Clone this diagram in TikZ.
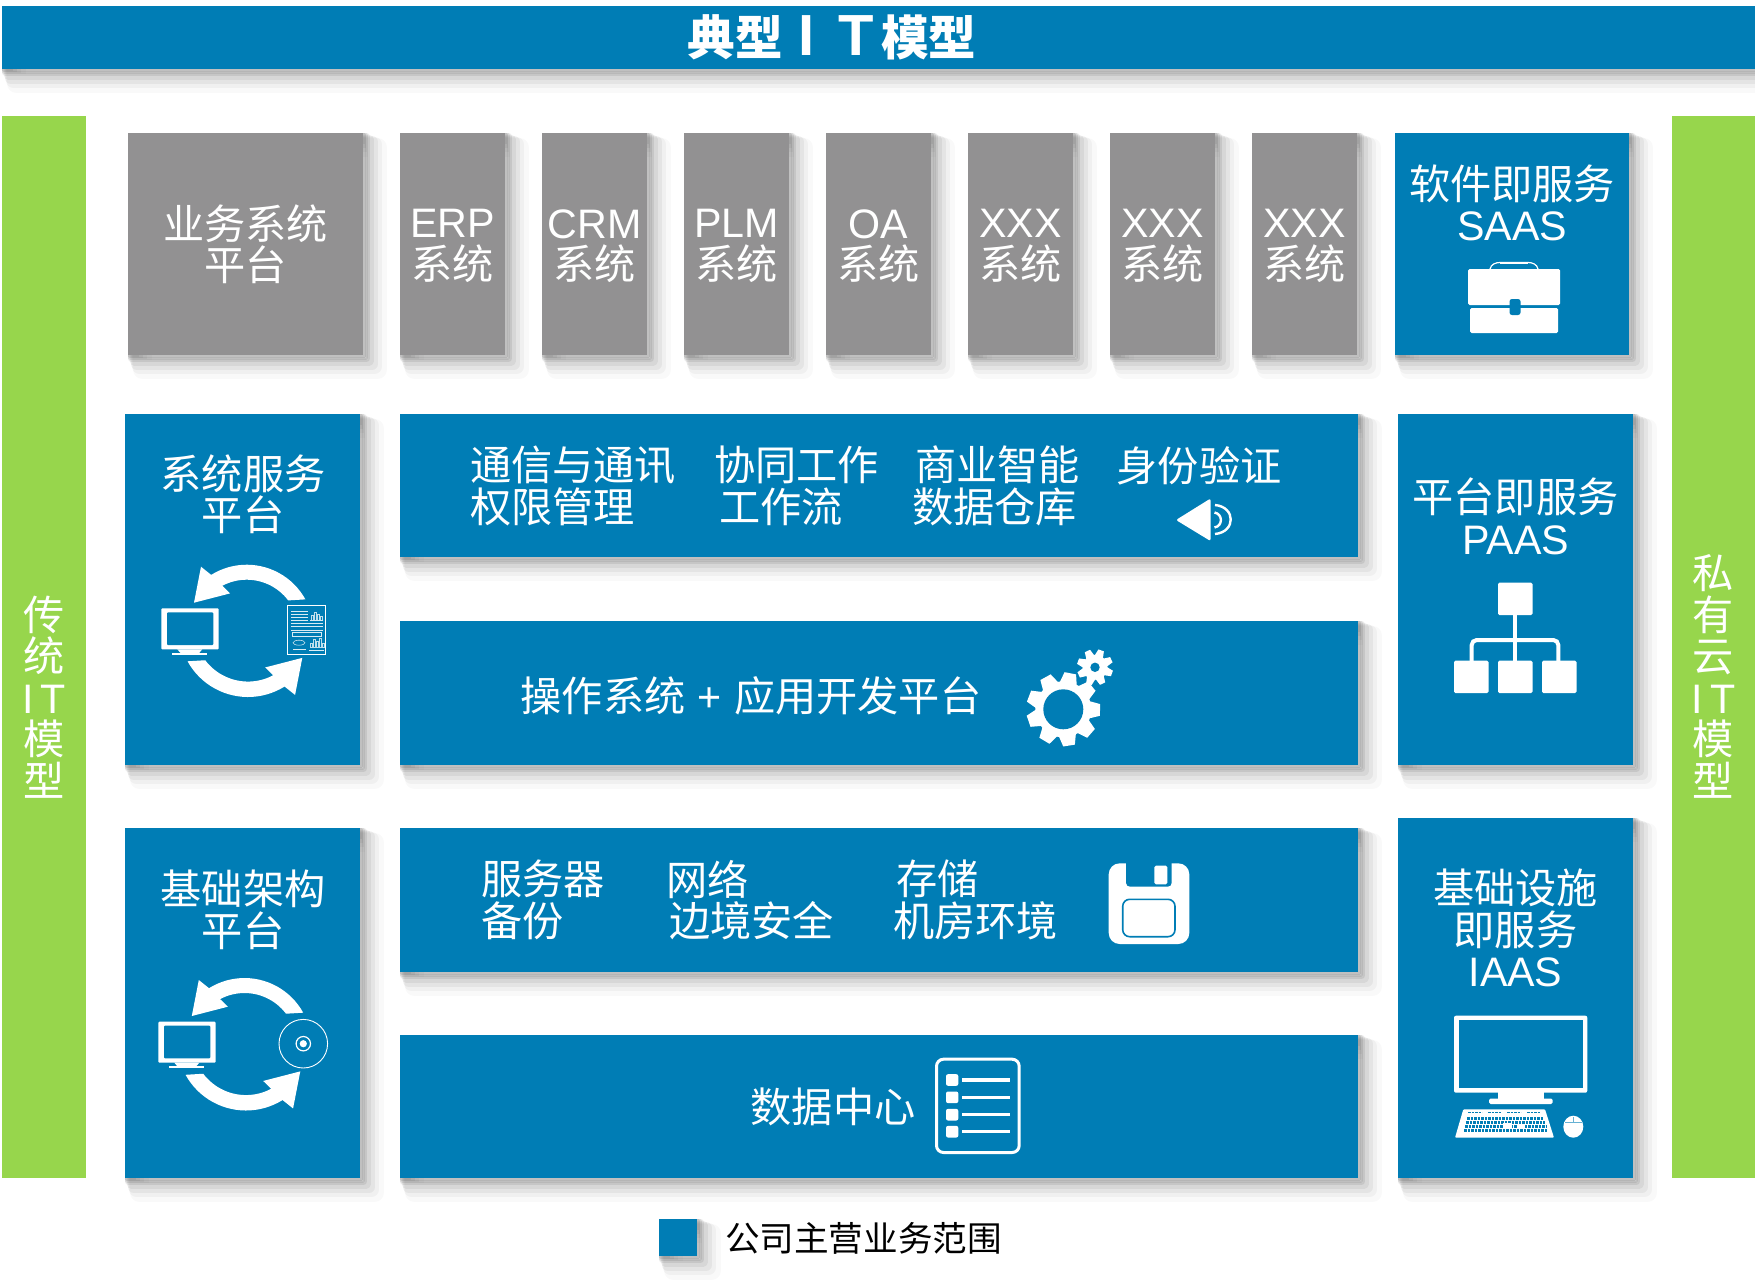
\documentclass[tikz,border=0pt]{standalone}
\usepackage{fontspec}
\setmainfont{Noto Sans CJK SC}
\newfontfamily\latfont{Liberation Sans}
\usetikzlibrary{shadows}
\definecolor{boxblue}{RGB}{0,125,181}
\definecolor{boxgray}{RGB}{146,145,146}
\definecolor{boxgreen}{RGB}{151,214,76}
\newcommand{\lat}[1]{{\latfont #1}}
% soft shadow, stacked strokes
\tikzset{
	softlayer/.style n args={3}{general shadow={shadow xshift=#2pt,shadow yshift=-#2pt,draw=black,draw opacity=#3,line width=#1pt,line join=round}},
	softshadow/.style={softlayer={19}{14.5}{.025},softlayer={15}{11.5}{.035},softlayer={12}{9}{.05},softlayer={9}{6}{.06},softlayer={7}{3.5}{.08},softlayer={5}{2.5}{.09},softlayer={3}{1.5}{.1}},
	plainbox/.style={inner sep=0pt,outer sep=0pt,text=white,align=center,font=\fontsize{41.2}{41.5}\selectfont},
	bluebox/.style={plainbox,fill=boxblue,softshadow},
	graybox/.style={plainbox,fill=boxgray,softshadow},
	greenbox/.style={plainbox,fill=boxgreen},
	label/.style={plainbox},
	leftlabel/.style={plainbox,align=left,anchor=west},
	halfloop/.pic={
		\fill[white] (58.3,-32.3) -- plot[domain=-29:-122,samples=24] ({67*cos(\x)},{67*sin(\x)}) -- (-45.7,-65) -- (-52.7,-29) -- (-16.7,-38.3) -- plot[domain=-118:-37,samples=24] ({52*cos(\x)},{52*sin(\x)}) -- cycle;
	},
	smallscreen/.pic={
		\fill[white,rounded corners=1pt] (0,0) rectangle (57.4,41);
		\fill[boxblue,rounded corners=1pt] (5.7,4) rectangle (52,36.7);
		\fill[white] (16,41) -- (41,41) -- (38,44.5) -- (19,44.5) -- cycle;
		\fill[white] (11,44.5) rectangle (45.7,46.2);
	},
}
\newcommand{\gearicon}[7]{% x, y, teeth, hole, body, tip, first angle
	\fill[white] (#1,#2) circle (#5);
	\pgfmathsetmacro{\gearstep}{360/#3}
	\foreach \k in {1,...,#3}{
		\pgfmathsetmacro{\geara}{#7+\k*\gearstep}
		\fill[white,shift={(#1,#2)},rotate=\geara] (#5*.9,-#6*.24) -- (#6,-#6*.16) -- (#6,#6*.16) -- (#5*.9,#6*.24) -- cycle;
	}
	\fill[boxblue] (#1,#2) circle (#4);
}

\begin{document}
\begin{tikzpicture}[x=1pt,y=-1pt]
	\useasboundingbox (0,0) rectangle (1755,1282);

	\node[bluebox,minimum width=1753pt,minimum height=63pt] (topbar) at (878.5,37.5) {};
	\node[label,font=\fontsize{47.6}{50}\selectfont\bfseries] (title) at (832,37) {典型\hspace{16pt}{\fontsize{58}{50}\selectfont\lat{I}}\hspace{24pt}{\fontsize{58}{50}\selectfont\lat{T}}\hspace{7pt}模型};

	\node[greenbox,minimum width=84pt,minimum height=1062pt] (leftbar) at (44,647) {};
	\node[greenbox,minimum width=83pt,minimum height=1062pt] (rightbar) at (1713.5,647) {};
	\node[label] (leftname) at (44,697) {传\\统\\\lat{I\hspace{7pt}T}\\模\\型};
	\node[label] (rightname) at (1713.5,676.5) {私\\有\\云\\\lat{I\hspace{7pt}T}\\模\\型};

	% top row
	\node[graybox,minimum width=235pt,minimum height=222pt] (bizbox) at (245.5,244) {业务系统\\平台};
	\foreach \nm/\lbl/\xc in {erp/ERP/452.5,crm/CRM/594.5,plm/PLM/736.5,oa/OA/878.5,xxxa/XXX/1020.5,xxxb/XXX/1162.5,xxxc/XXX/1304.5}{
		\node[graybox,minimum width=105pt,minimum height=222pt] (\nm) at (\xc,244) {};
		\node[label] (\nm text) at (\xc,246) {\lat{\lbl}\\系统};
	}
	\node[bluebox,minimum width=234pt,minimum height=222pt] (saasbox) at (1512,244) {};
	\node[label] (saas) at (1512,203) {软件即服务\\\lat{SAAS}};

	% middle
	\node[bluebox,minimum width=235pt,minimum height=351pt] (sysbox) at (242.5,589.5) {};
	\node[label] (sys) at (243,494) {系统服务\\平台};
	\node[bluebox,minimum width=958pt,minimum height=143pt] (rowa) at (879,485.5) {};
	\node[bluebox,minimum width=958pt,minimum height=144pt] (rowb) at (879,693) {};
	\node[bluebox,minimum width=235pt,minimum height=351pt] (paasbox) at (1515.5,589.5) {};
	\node[label] (paas) at (1515.5,516.5) {平台即服务\\\lat{PAAS}};

	\node[leftlabel] (msg) at (470,486) {通信与通讯\\权限管理};
	\node[leftlabel] (work) at (714,486) {协同工作\\\hspace{5pt}工作流};
	\node[leftlabel] (bi) at (912,486) {\hspace{3pt}商业智能\\数据仓库};
	\node[label] (auth) at (1199,466) {身份验证};
	\node[label] (os) at (751,696) {操作系统\hspace{3pt} \lat{+} \hspace{3pt}应用开发平台};

	% bottom
	\node[bluebox,minimum width=235pt,minimum height=350pt] (infrabox) at (242.5,1003) {};
	\node[label] (infra) at (243,910) {基础架构\\平台};
	\node[bluebox,minimum width=958pt,minimum height=144pt] (rowc) at (879,900) {};
	\node[bluebox,minimum width=958pt,minimum height=143pt] (rowd) at (879,1106.5) {};
	\node[bluebox,minimum width=235pt,minimum height=360pt] (iaasbox) at (1515.5,998) {};
	\node[label] (iaas) at (1515.5,928) {基础设施\\即服务\\\lat{IAAS}};

	\node[leftlabel] (server) at (481,900) {服务器\\备份};
	\node[leftlabel] (net) at (666,900) {网络\\\hspace{3pt}边境安全};
	\node[leftlabel] (store) at (893,900) {\hspace{3pt}存储\\机房环境};
	\node[label] (dc) at (833,1107) {数据中心};

	% legend
	\node[plainbox,fill=boxblue,softshadow,minimum width=38pt,minimum height=37pt] (legendbox) at (678,1237.5) {};
	\node[leftlabel,text=black,font=\fontsize{34.6}{36}\selectfont] (legend) at (725,1238) {公司主营业务范围};

	% briefcase
	\draw[white,line width=1.2pt] (1490,269) .. controls (1491,264) and (1496,262.5) .. (1500,262.5) -- (1528,262.5) .. controls (1532,262.5) and (1537,264) .. (1538,269);
	\fill[white,line width=3pt] (1500,261.5) rectangle (1528,264);
	\fill[white,rounded corners=1.5pt] (1468,269) rectangle (1560,305);
	\fill[white,rounded corners=1.5pt] (1470,308) rectangle (1558,333);
	\fill[boxblue,rounded corners=2.5pt] (1509.5,299) rectangle (1520.5,315);

	% loops
	\pic at (246.7,631.7) {halfloop};
	\pic[rotate=180,scale=1.03] at (248,628) {halfloop};
	\pic at (161.3,608.3) {smallscreen};
	\pic at (244.5,1045) {halfloop};
	\pic[rotate=180,scale=1.03] at (246,1041.5) {halfloop};
	\pic at (158.3,1021.7) {smallscreen};

	% report sheet
	\draw[white,line width=.8pt] (287.5,605) rectangle (325,654.3);
	\foreach \yy in {611,614.3,617.5,620.2}
		\draw[white!85!boxblue,line width=.8pt] (291,\yy) -- (308,\yy);
	\foreach \xx/\hh in {311/5,314/8,317/6,320/4}
		\draw[white!75!boxblue,line width=.6pt] (\xx,620) rectangle (\xx+2,620-\hh);
	\draw[white!85!boxblue,line width=.7pt] (310,620.5) -- (323,620.5);
	\foreach \yy in {623.5,626.8,630}
		\draw[white!85!boxblue,line width=.7pt] (291,\yy) -- (323,\yy);
	\draw[white!85!boxblue,line width=.7pt] (292.3,632.7) rectangle (321.7,636);
	\draw[white!80!boxblue,line width=.6pt] (299,642.7) ellipse (6 and 2.5);
	\draw[white!85!boxblue,line width=.7pt] (293,649.5) -- (306,649.5);
	\foreach \xx/\hh in {310/4,313/8,316/6,319/9,322/4}
		\draw[white!75!boxblue,line width=.6pt] (\xx,647) rectangle (\xx+2,647-\hh);
	\draw[white!85!boxblue,line width=.8pt] (309,650) -- (324,650);

	% disc
	\draw[white,line width=.9pt] (303.3,1043.7) circle (24.3);
	\draw[white,line width=1.2pt] (303.3,1043.7) circle (7.2);
	\fill[white] (303.3,1043.7) circle (3.6);

	% speaker
	\fill[white,rounded corners=2pt] (1176,520) -- (1210.5,498.5) -- (1210.5,541) -- cycle;
	\draw[white,line width=2.4pt] (1214.5,512.5) .. controls (1223,514) and (1223,526) .. (1214.5,527.5);
	\draw[white,line width=2.4pt] (1215,505) .. controls (1236,507) and (1236,532) .. (1215,534);

	% gears
	\gearicon{1063.3}{709.3}{9}{20}{28}{36.7}{-81}
	\gearicon{1095}{667.3}{8}{4.7}{12.5}{18}{-65}

	% tree
	\draw[white,line width=4pt] (1515,600) -- (1515,675);
	\draw[white,line width=4pt,rounded corners=5pt] (1471.7,675) -- (1471.7,640) -- (1558.3,640) -- (1558.3,675);
	\foreach \xa/\ya in {1498/582.7,1454/660.7,1498/660.7,1542/660.7}
		\fill[white,rounded corners=1.5pt] (\xa,\ya) rectangle (\xa+34.5,\ya+32.5);

	% floppy
	\fill[white,rounded corners=11pt] (1108.7,863.3) rectangle (1189.3,944);
	\fill[boxblue,rounded corners=4pt] (1126,855) rectangle (1171.7,886.7);
	\fill[white,rounded corners=1.5pt] (1154.3,865.7) rectangle (1167.3,884.3);
	\draw[boxblue,line width=1.6pt,rounded corners=7pt] (1122.7,899.3) rectangle (1175,936.7);

	% list
	\draw[white,line width=3pt,rounded corners=7pt] (936.5,1059.2) rectangle (1019.2,1152.5);
	\foreach \yy in {1080,1097.3,1114.7,1131.7}{
		\fill[white,rounded corners=2pt] (946,\yy-5.8) rectangle (958.3,\yy+5.8);
		\draw[white,line width=3.5pt] (962,\yy) -- (1010,\yy);
	}

	% desktop
	\fill[white,rounded corners=2pt] (1454,1015.7) rectangle (1587.3,1092.7);
	\fill[boxblue] (1458.7,1020) rectangle (1583,1088.3);
	\fill[white] (1498.3,1092) rectangle (1544,1099);
	\fill[white,rounded corners=1.5pt] (1489,1098.7) rectangle (1552.7,1104);
	\fill[white,rounded corners=1pt] (1463.3,1109.3) -- (1545,1109.3) -- (1554,1137.7) -- (1455,1137.7) -- cycle;
	\foreach \xa in {1468,1488,1507,1527}
		\draw[boxblue,line width=1.3pt,dash pattern=on 2.5pt off 1pt] (\xa,1112.8) -- (\xa+14,1112.8);
	\foreach \yy/\xa/\xb in {1118.5/1467/1544,1122.5/1466/1545,1126.5/1465/1546,1130.5/1464/1547}
		\draw[boxblue,line width=2.6pt,dash pattern=on 2.5pt off 1pt] (\xa,\yy) -- (\xb,\yy);
	\fill[white] (1503,1123) rectangle (1512,1129);
	\fill[white] (1518,1125) rectangle (1525,1129);
	\fill[white] (1573.3,1126.7) ellipse (10 and 11);
	\draw[boxblue!60!white,line width=.5pt] (1565,1122.5) -- (1581.5,1122.5);
	\draw[boxblue!60!white,line width=.7pt] (1573.3,1117) -- (1573.3,1122);
\end{tikzpicture}
\end{document}
